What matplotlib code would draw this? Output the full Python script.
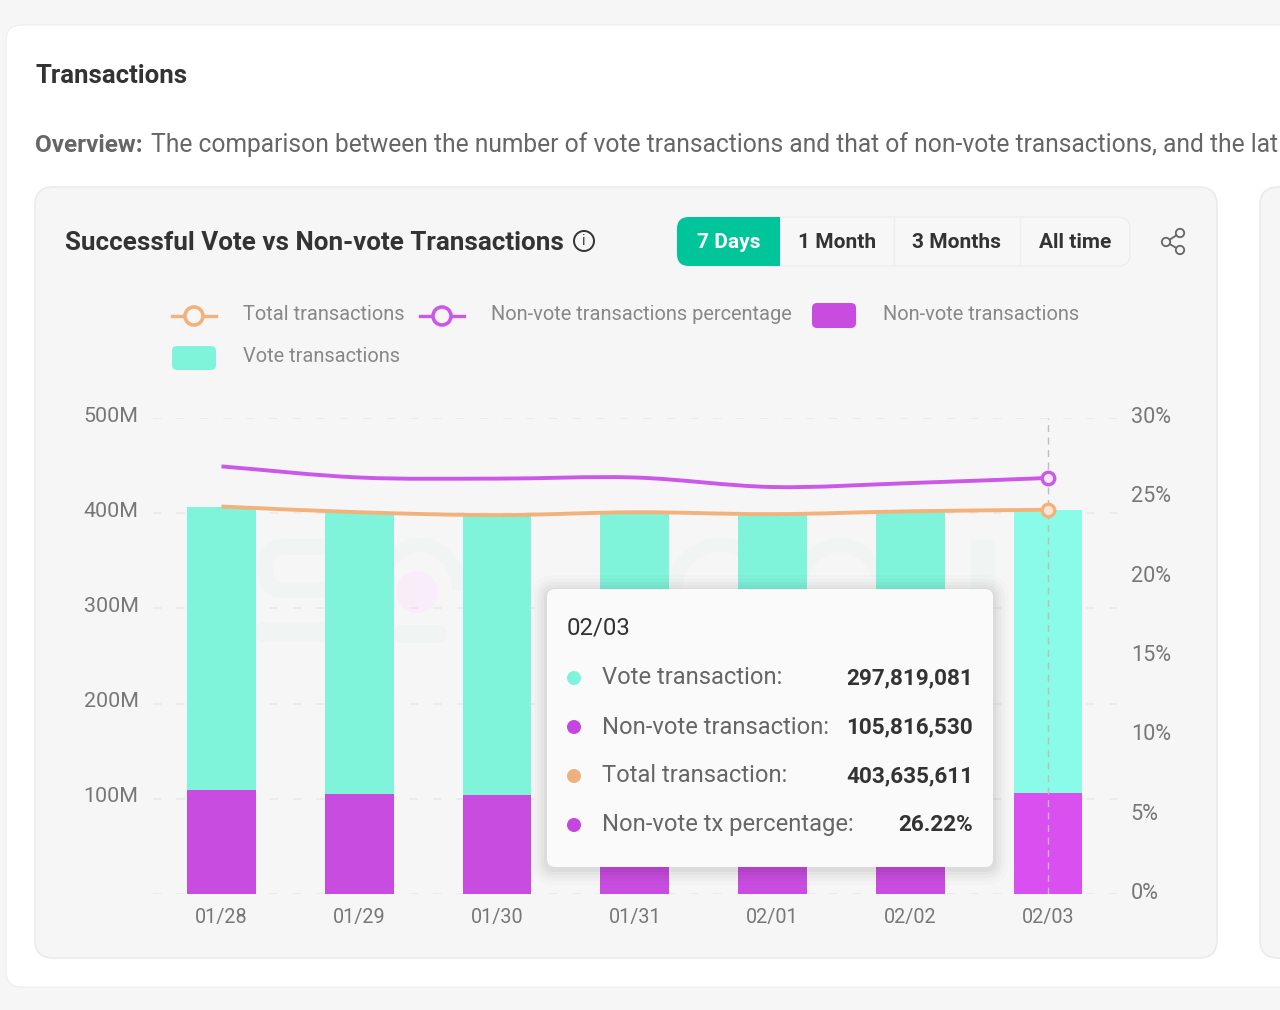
import numpy as np
import matplotlib
matplotlib.use("Agg")
import matplotlib.pyplot as plt
from matplotlib.patches import Arc, Circle, FancyBboxPatch, PathPatch, Rectangle
from matplotlib.path import Path
from matplotlib.transforms import ScaledTranslation

plt.rcParams["font.family"] = ["Roboto", "DejaVu Sans"]

# Data (millions / percent)
dates = ["01/28", "01/29", "01/30", "01/31", "02/01", "02/02", "02/03"]
vote_tx = [297.5, 295.7, 293.8, 295.7, 296.7, 297.9, 297.819081]
non_vote_tx = [109.5, 105.3, 104.2, 105.3, 102.3, 104.1, 105.81653]
total_tx = [407.0, 401.0, 398.0, 401.0, 399.0, 402.0, 403.635611]
non_vote_pct = [26.95, 26.25, 26.18, 26.25, 25.65, 25.9, 26.22]

left_ticks = [0, 100, 200, 300, 400, 500]
left_labels = ["", "100M", "200M", "300M", "400M", "500M"]
right_ticks = [0, 5, 10, 15, 20, 25, 30]
right_labels = ["0%", "5%", "10%", "15%", "20%", "25%", "30%"]

legend_lines = ["Total transactions", "Non-vote transactions percentage"]
legend_boxes = ["Non-vote transactions", "Vote transactions"]
ranges = ["7 Days", "1 Month", "3 Months", "All time"]
tooltip_rows = ["Vote transaction:", "Non-vote transaction:", "Total transaction:", "Non-vote tx percentage:"]
tooltip_values = ["297,819,081", "105,816,530", "403,635,611", "26.22%"]

GREEN = "#80f3db"
GREEN_LAST = "#8bfbe9"
PURPLE = "#c94ce0"
PURPLE_LAST = "#d94ff0"
ORANGE = "#f3b27c"
LINE_PURPLE = "#cb58e8"
PANEL = "#f6f6f6"
GRID = "#e9e9e9"
WATERMARK = "#f0f4f3"
W, H = 1280, 1010


def smooth_path(xs, ys):
    """Cubic bezier through the points, flattened tangents like the chart library."""
    xs, ys = np.asarray(xs, float), np.asarray(ys, float)
    slopes = np.gradient(ys, xs)
    verts = [(xs[0], ys[0])]
    codes = [Path.MOVETO]
    for i in range(len(xs) - 1):
        dx = (xs[i + 1] - xs[i]) / 3
        verts += [
            (xs[i] + dx, ys[i] + slopes[i] * dx),
            (xs[i + 1] - dx, ys[i + 1] - slopes[i + 1] * dx),
            (xs[i + 1], ys[i + 1]),
        ]
        codes += [Path.CURVE4] * 3
    return Path(verts, codes)


def rounded(ax, x0, y0, x1, y1, r, **kw):
    patch = FancyBboxPatch(
        (x0 + r, y0 + r), x1 - x0 - 2 * r, y1 - y0 - 2 * r,
        boxstyle=f"round,pad={r},rounding_size={r}", **kw
    )
    ax.add_patch(patch)
    return patch


def pixel_axes(fig, zorder):
    ax = fig.add_axes([0, 0, 1, 1], zorder=zorder)
    ax.set_xlim(0, W)
    ax.set_ylim(H, 0)
    ax.axis("off")
    ax.patch.set_alpha(0)
    return ax


def draw_watermark(ax):
    # faint logo behind the bars
    rounded(ax, 266, 547, 345, 590, 18, fc="none", ec=WATERMARK, lw=11)
    rounded(ax, 256, 622, 340, 642, 8, fc=WATERMARK, ec="none")
    ax.add_patch(Arc((420, 590), 78, 90, theta1=180, theta2=360, color=WATERMARK, lw=10))
    ax.add_patch(Circle((417, 592), 21, fc="#faedfa", ec="none"))
    rounded(ax, 394, 625, 446, 643, 8, fc=WATERMARK, ec="none")
    ax.add_patch(Arc((720, 590), 90, 90, theta1=180, theta2=300, color=WATERMARK, lw=10))
    ax.add_patch(Arc((840, 590), 80, 90, theta1=200, theta2=340, color=WATERMARK, lw=10))
    ax.add_patch(Rectangle((971, 540), 24, 50, fc=WATERMARK, ec="none"))


def draw_page(ax):
    rounded(ax, 6, 25, 1400, 987, 16, fc="white", ec="#f0f0f0", lw=1)
    rounded(ax, 35, 187, 1217, 958, 18, fc=PANEL, ec="#ebebeb", lw=1.2)
    rounded(ax, 1260, 187, 1500, 958, 18, fc=PANEL, ec="#ebebeb", lw=1.2)
    draw_watermark(ax)

    ax.text(35, 76, "Transactions", fontsize=18.5, fontweight="bold", color="#333333", va="center")
    ax.text(35, 146, "Overview:", fontsize=17.5, fontweight="bold", color="#666666", va="center")
    ax.text(
        151, 145,
        "The comparison between the number of vote transactions and that of non-vote transactions, and the lat",
        fontsize=17.7, color="#666666", va="center",
    )
    ax.text(65, 243, "Successful Vote vs Non-vote Transactions", fontsize=18.75, fontweight="bold",
            color="#333333", va="center")

    # info icon
    ax.add_patch(Circle((584, 241), 10, fc="none", ec="#333333", lw=1.4))
    ax.text(584, 241, "i", fontsize=10, color="#333333", ha="center", va="center")

    # range buttons
    rounded(ax, 677, 217, 1130, 266, 12, fc="#f7f7f7", ec="#eeeeee", lw=1)
    green = rounded(ax, 677, 217, 800, 266, 12, fc="#00c49a", ec="none")
    green.set_clip_path(Rectangle((677, 217), 103, 49, transform=ax.transData))
    edges = [677, 780, 894, 1020, 1130]
    for i, label in enumerate(ranges):
        colour = "white" if i == 0 else "#333333"
        ax.text((edges[i] + edges[i + 1]) / 2, 243, label, fontsize=15, fontweight="bold",
                color=colour, ha="center", va="center")
    for x in edges[2:4]:
        ax.plot([x, x], [218, 265], color="#eeeeee", lw=1)

    # share icon
    ax.plot([1180, 1166, 1180], [233, 242, 250], color="#666666", lw=1.3)
    for cx, cy in [(1180, 233), (1166, 242), (1180, 250)]:
        ax.add_patch(Circle((cx, cy), 4.2, fc=PANEL, ec="#666666", lw=1.3, zorder=3))

    # legend
    for label, colour, x in zip(legend_lines, [ORANGE, LINE_PURPLE], [172, 420]):
        ax.plot([x, x + 44], [316, 316], color=colour, lw=2.4)
        ax.add_patch(Circle((x + 22, 316), 9, fc=PANEL, ec=colour, lw=2.6, zorder=3))
        ax.text(x + 71, 315, label, fontsize=14.4, color="#888888", va="center")
    rounded(ax, 812, 303, 856, 328, 5, fc=PURPLE, ec="none")
    ax.text(883, 315, legend_boxes[0], fontsize=14.4, color="#888888", va="center")
    rounded(ax, 172, 346, 216, 370, 5, fc=GREEN, ec="none")
    ax.text(243, 357, legend_boxes[1], fontsize=14.4, color="#888888", va="center")


def draw_chart(fig):
    ax = fig.add_axes([152.6 / W, 1 - 894 / H, 964.3 / W, 476 / H], zorder=1)
    ax.patch.set_alpha(0)
    x = np.arange(len(dates))
    purple = [PURPLE] * 6 + [PURPLE_LAST]
    green = [GREEN] * 6 + [GREEN_LAST]
    ax.bar(x, non_vote_tx, width=0.5, color=purple, zorder=2)
    ax.bar(x, vote_tx, width=0.5, bottom=non_vote_tx, color=green, zorder=2)
    ax.add_patch(PathPatch(smooth_path(x, total_tx), fc="none", ec=ORANGE, lw=2.8, zorder=4))

    ax.set_xlim(-0.5, 6.5)
    ax.set_ylim(0, 500)
    ax.set_xticks(x, dates)
    ax.set_yticks(left_ticks, left_labels)
    ax.grid(axis="y", color=GRID, lw=1.2, ls=(0, (5, 9)), zorder=1)
    ax.set_axisbelow(True)
    ax.tick_params(axis="x", length=0, pad=10, labelsize=14.2, labelcolor="#777777")
    ax.tick_params(axis="y", length=0, pad=10, labelsize=15.4, labelcolor="#777777")
    for spine in ax.spines.values():
        spine.set_visible(False)
    shift = ScaledTranslation(0, 4 / 100, fig.dpi_scale_trans)
    for label in ax.get_yticklabels():
        label.set_transform(label.get_transform() + shift)

    ax2 = ax.twinx()
    ax2.set_zorder(2)
    ax2.patch.set_alpha(0)
    ax2.set_ylim(0, 30)
    ax2.set_yticks(right_ticks, right_labels)
    ax2.tick_params(axis="y", length=0, pad=10, labelsize=15.6, labelcolor="#777777")
    for spine in ax2.spines.values():
        spine.set_visible(False)
    shift2 = ScaledTranslation(0, 3 / 100, fig.dpi_scale_trans)
    for label in ax2.get_yticklabels():
        label.set_transform(label.get_transform() + shift2)
    ax2.add_patch(PathPatch(smooth_path(x, non_vote_pct), fc="none", ec=LINE_PURPLE, lw=2.8, zorder=4))
    ax2.axvline(x[-1], color="#bdbdbd", lw=1, ls=(0, (5, 4)), zorder=3)
    ax2.plot(x[-1], non_vote_pct[-1], "o", ms=9, mfc="#f3e6f6", mec=LINE_PURPLE, mew=2.4, zorder=5)
    ax2.plot(x[-1], total_tx[-1] * 30 / 500, "o", ms=9, mfc="#f6e8d8", mec=ORANGE, mew=2.4, zorder=5)
    return ax


def draw_tooltip(ax):
    for grow, alpha in [(16, 0.012), (12, 0.016), (9, 0.02), (6, 0.025), (3, 0.03)]:
        rounded(ax, 547 - grow, 589 - grow + 2, 993 + grow, 867 + grow + 2, 8 + grow,
                fc="black", ec="none", alpha=alpha)
    rounded(ax, 547, 589, 993, 867, 8, fc="#fafafa", ec="none")
    ax.text(567, 628, dates[-1], fontsize=17.2, color="#333333", va="center")
    colours = [GREEN, "#c545e0", "#eeb07c", "#c545e0"]
    for y, label, value, colour in zip([678, 727, 776, 825], tooltip_rows, tooltip_values, colours):
        ax.add_patch(Circle((574, y), 7, fc=colour, ec="none"))
        ax.text(602, y, label, fontsize=17.1, color="#666666", va="center")
        ax.text(973, y, value, fontsize=16.2, fontweight="bold", color="#333333", va="center", ha="right")


def main():
    fig = plt.figure(figsize=(W / 100, H / 100), dpi=100, facecolor="#f6f6f6")
    page = pixel_axes(fig, 0)
    draw_page(page)
    draw_chart(fig)
    top = pixel_axes(fig, 5)
    draw_tooltip(top)
    fig.savefig("out.png", dpi=100, facecolor=fig.get_facecolor())


if __name__ == "__main__":
    main()
